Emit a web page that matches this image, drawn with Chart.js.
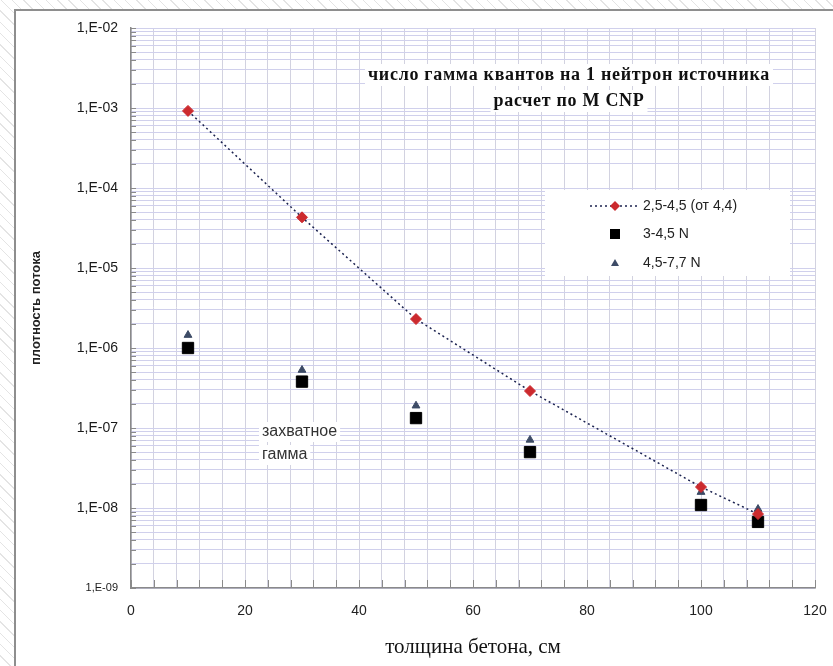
<!DOCTYPE html>
<html>
<head>
<meta charset="utf-8">
<title>плотность потока</title>
<script src="https://cdn.jsdelivr.net/npm/chart.js@4"></script>
<style>
    html, body {
        margin: 0;
        padding: 0;
    }
    body {
        width: 833px;
        height: 666px;
        overflow: hidden;
        position: relative;
        background: repeating-linear-gradient(45deg, #ffffff 0 7px, #e4e4e4 7px 8px);
    }
    .frame {
        position: absolute;
        left: 14px;
        top: 9px;
        width: 840px;
        height: 680px;
        border: 2px solid #8e8e8e;
        background: #fff;
    }
    #fluxChart {
        position: absolute;
        left: 0;
        top: 0;
    }
</style>
</head>
<body>
<div class="frame"></div>
<canvas id="fluxChart" width="833" height="666"></canvas>

<script>
// Concrete thickness, cm
const thickness = [10, 30, 50, 70, 100, 110];

// Flux density per source neutron
const flux25_45 = [9.2e-4, 4.3e-5, 2.3e-6, 2.9e-7, 1.83e-8, 8.4e-9];
const flux3_45N = [1.0e-6, 3.8e-7, 1.33e-7, 5.0e-8, 1.09e-8, 6.7e-9];
const flux45_77N = [1.45e-6, 5.3e-7, 1.9e-7, 7.1e-8, 1.58e-8, 9.7e-9];

const seriesNames = ['2,5-4,5 (от 4,4)', '3-4,5 N', '4,5-7,7 N'];

// Axis ticks
const yDecades = [1e-9, 1e-8, 1e-7, 1e-6, 1e-5, 1e-4, 1e-3, 1e-2];
const yTickLabels = ['1,E-09', '1,E-08', '1,E-07', '1,E-06', '1,E-05', '1,E-04', '1,E-03', '1,E-02'];
const xTickLabels = ['0', '20', '40', '60', '80', '100', '120'];
const xMinorStep = 4;

const titleLines = ['число гамма квантов на 1 нейтрон источника', 'расчет по M CNP'];
const noteLines = ['захватное', 'гамма'];

const RED = '#cc2a2e';
const TRI = '#3d4b66';
const SANS = '"Liberation Sans", Arial, sans-serif';
const SERIF = '"Liberation Serif", "Times New Roman", serif';

const toXY = ys => thickness.map((x, i) => ({ x, y: ys[i] }));

// log grid: decade lines plus 2..9 of every decade
function logTicks() {
    const out = [];
    yDecades.forEach((d, i) => {
        out.push({ value: d });
        if (i < yDecades.length - 1) {
            for (let m = 2; m <= 9; m++) out.push({ value: m * d });
        }
    });
    return out;
}

function decadeLabel(value) {
    const i = yDecades.findIndex(d => Math.abs(Math.log10(value) - Math.log10(d)) < 1e-6);
    return i >= 0 ? yTickLabels[i] : '';
}

function textWithBox(ctx, text, x, y, align) {
    const w = ctx.measureText(text).width;
    const left = align === 'center' ? x - w / 2 : x;
    ctx.fillStyle = '#fff';
    ctx.fillRect(left - 3, y - 11, w + 6, 22);
    ctx.fillStyle = '#111';
    ctx.textAlign = align;
    ctx.fillText(text, x, y);
}

// inner tick marks, notes and legend inside the plot area
const decorations = {
    id: 'decorations',
    afterDatasetsDraw(chart) {
        const { ctx, chartArea, scales } = chart;
        const xs = scales.x, ys = scales.y;
        ctx.save();

        ctx.strokeStyle = '#8a8a8a';
        ctx.lineWidth = 1;
        ctx.beginPath();
        for (let v = 0; v <= 120; v += xMinorStep) {
            const px = Math.round(xs.getPixelForValue(v)) + 0.5;
            ctx.moveTo(px, chartArea.bottom);
            ctx.lineTo(px, chartArea.bottom - 8);
        }
        ys.ticks.forEach(t => {
            const py = Math.round(ys.getPixelForValue(t.value)) + 0.5;
            ctx.moveTo(chartArea.left, py);
            ctx.lineTo(chartArea.left + 5, py);
        });
        ctx.stroke();

        ctx.textBaseline = 'middle';
        ctx.font = 'bold 18px ' + SERIF;
        ctx.letterSpacing = '0.7px';
        textWithBox(ctx, titleLines[0], 569, 75, 'center');
        textWithBox(ctx, titleLines[1], 569, 101, 'center');
        ctx.letterSpacing = '0px';

        ctx.font = '16px ' + SANS;
        ctx.fillStyle = '#fff';
        noteLines.forEach((line, i) => {
            const w = ctx.measureText(line).width;
            ctx.fillRect(259, 432 + i * 23 - 10, w + 6, 20);
        });
        ctx.fillStyle = '#333';
        ctx.textAlign = 'left';
        noteLines.forEach((line, i) => ctx.fillText(line, 262, 432 + i * 23));

        // legend
        ctx.fillStyle = '#fff';
        ctx.fillRect(545, 190, 245, 86);
        const mx = 615, tx = 643;
        ctx.strokeStyle = '#1c2350';
        ctx.lineWidth = 1.5;
        ctx.setLineDash([2, 3]);
        ctx.beginPath();
        ctx.moveTo(590, 206);
        ctx.lineTo(638, 206);
        ctx.stroke();
        ctx.setLineDash([]);

        ctx.fillStyle = RED;
        ctx.beginPath();
        ctx.moveTo(mx, 201); ctx.lineTo(mx + 5, 206); ctx.lineTo(mx, 211); ctx.lineTo(mx - 5, 206);
        ctx.closePath();
        ctx.fill();

        ctx.fillStyle = '#000';
        ctx.fillRect(mx - 5, 229, 10, 10);

        ctx.fillStyle = TRI;
        ctx.beginPath();
        ctx.moveTo(mx, 259); ctx.lineTo(mx + 4, 266); ctx.lineTo(mx - 4, 266);
        ctx.closePath();
        ctx.fill();

        ctx.font = '14px ' + SANS;
        ctx.fillStyle = '#222';
        ctx.textAlign = 'left';
        ctx.fillText(seriesNames[0], tx, 206);
        ctx.fillText(seriesNames[1], tx, 234);
        ctx.fillText(seriesNames[2], tx, 263);

        ctx.restore();
    }
};

new Chart(document.getElementById('fluxChart'), {
    type: 'scatter',
    data: {
        datasets: [
            {
                label: seriesNames[0],
                data: toXY(flux25_45),
                showLine: true,
                borderColor: '#1c2350',
                borderWidth: 1.5,
                borderDash: [2, 3],
                pointStyle: 'rectRot',
                pointRadius: 5.5,
                pointBackgroundColor: RED,
                pointBorderColor: RED,
                pointBorderWidth: 1
            },
            {
                label: seriesNames[1],
                data: toXY(flux3_45N),
                pointStyle: 'rect',
                pointRadius: 8,
                pointBackgroundColor: '#000',
                pointBorderColor: '#000',
                pointBorderWidth: 1
            },
            {
                label: seriesNames[2],
                data: toXY(flux45_77N),
                pointStyle: 'triangle',
                pointRadius: 4.5,
                pointBackgroundColor: TRI,
                pointBorderColor: TRI,
                pointBorderWidth: 1
            }
        ]
    },
    options: {
        responsive: false,
        animation: false,
        devicePixelRatio: 1,
        layout: {
            padding: { top: 28, right: 18, left: 0, bottom: 0 }
        },
        plugins: {
            legend: { display: false },
            tooltip: { enabled: false }
        },
        scales: {
            x: {
                type: 'linear',
                min: 0,
                max: 120,
                afterFit: scale => {
                    scale.height = 78;
                    scale.paddingLeft = 0;
                    scale.paddingRight = 0;
                },
                afterBuildTicks: scale => {
                    const t = [];
                    for (let v = 0; v <= 120; v += xMinorStep) t.push({ value: v });
                    scale.ticks = t;
                },
                grid: { color: '#d2d2e0', lineWidth: 1, drawTicks: false },
                border: { color: '#8a8a8a', width: 1.5 },
                ticks: {
                    autoSkip: false,
                    maxRotation: 0,
                    padding: 15,
                    color: '#222',
                    font: { family: SANS, size: 14 },
                    callback: v => (v % 20 === 0 ? xTickLabels[v / 20] : '')
                },
                title: {
                    display: true,
                    text: 'толщина бетона, см',
                    color: '#111',
                    font: { family: SERIF, size: 21 },
                    padding: { top: 0, bottom: 6 }
                }
            },
            y: {
                type: 'logarithmic',
                min: 1e-9,
                max: 1e-2,
                afterFit: scale => {
                    scale.width = 131;
                    scale.paddingTop = 0;
                    scale.paddingBottom = 0;
                },
                afterBuildTicks: scale => { scale.ticks = logTicks(); },
                grid: { color: '#d0d0ec', lineWidth: 1, drawTicks: false },
                border: { color: '#8a8a8a', width: 1.5 },
                ticks: {
                    autoSkip: false,
                    padding: 13,
                    color: '#1a1a1a',
                    font: ctx => ({ family: SANS, size: ctx.tick && ctx.tick.value === 1e-9 ? 11 : 14 }),
                    callback: v => decadeLabel(v)
                },
                title: {
                    display: true,
                    text: 'плотность потока',
                    color: '#222',
                    font: { family: SANS, size: 13, weight: 'bold' },
                    padding: { top: 29, bottom: 0 }
                }
            }
        }
    },
    plugins: [decorations]
});
</script>
</body>
</html>
